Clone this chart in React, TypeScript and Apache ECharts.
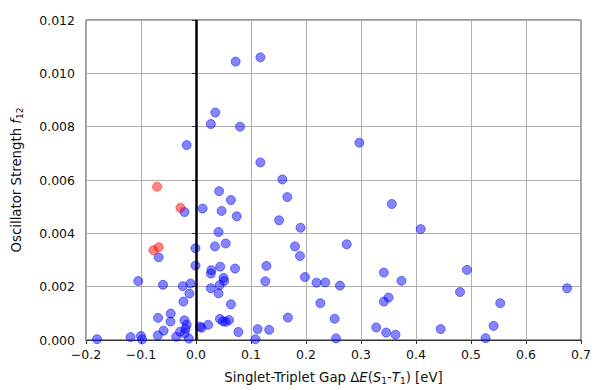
import React, { useEffect, useRef } from "react";
import * as echarts from "echarts";

const blueX = [0.072,0.117,0.035,0.027,0.080,-0.017,0.117,0.157,0.297,-0.021,0.042,0.0635,0.012,0.0465,0.074,0.166,0.151,0.190,0.041,0.180,0.189,0.054,0.0345,-0.001,-0.068,-0.001,0.044,0.071,0.128,0.028,0.027,0.198,0.050,0.051,0.126,-0.105,-0.060,-0.024,-0.010,0.043,0.027,0.219,0.235,0.041,-0.012,-0.023,0.0635,0.226,-0.046,-0.0465,-0.069,-0.021,-0.017,-0.019,-0.029,-0.036,-0.0205,-0.013,-0.059,-0.0695,-0.100,-0.119,-0.180,-0.098,0.0435,0.049,0.054,0.060,0.022,0.010,0.007,0.077,0.167,0.112,0.133,0.108,0.356,0.4085,0.274,0.4926,0.3415,0.3735,0.2617,0.6745,0.48,0.35,0.3415,0.553,0.252,0.3276,0.3457,0.3627,0.4448,0.541,0.2545,0.5264];
const blueY = [0.01044,0.0106,0.00853,0.0081,0.0080,0.00731,0.00666,0.00602,0.0074,0.0048,0.00558,0.00525,0.00493,0.00484,0.00464,0.00536,0.00449,0.00421,0.00405,0.00351,0.00315,0.00362,0.00351,0.00344,0.0031,0.00279,0.00275,0.00268,0.00278,0.00262,0.00249,0.00236,0.00233,0.00221,0.0022,0.00221,0.00207,0.00202,0.00212,0.00206,0.00194,0.00215,0.00216,0.00175,0.00174,0.00144,0.00134,0.00138,0.00099,0.00069,0.00083,0.00074,0.00057,0.00042,0.00031,0.00012,0.00025,0.00005,0.00035,0.00017,0.00015,0.00011,0.00003,0.00002,0.00079,0.0007,0.00068,0.00075,0.00057,0.00046,0.0005,0.0003,0.00084,0.00041,0.00038,0.00003,0.0051,0.00416,0.00359,0.00263,0.00253,0.00222,0.00204,0.00194,0.0018,0.00159,0.00144,0.00138,0.0008,0.00047,0.00028,0.0002,0.00041,0.00053,0.00006,0.00007];
const redX = [-0.0707,-0.0284,-0.0774,-0.0677];
const redY = [0.00575,0.00496,0.00337,0.00348];

const xTicks = [-0.2,-0.1,0,0.1,0.2,0.3,0.4,0.5,0.6,0.7];
const yTicks = [0,0.002,0.004,0.006,0.008,0.010,0.012];

const FONT = "DejaVu Sans";

export default function App() {
  const ref = useRef<HTMLDivElement>(null);
  useEffect(() => {
    if (!ref.current) return;
    const chart = echarts.init(ref.current, null, { renderer: "svg" });
    const blue = blueX.map((x, i) => [x, blueY[i]]);
    const red = redX.map((x, i) => [x, redY[i]]);
    const rich = {
      n: { fontSize: 13.3, color: "#111", fontFamily: FONT },
      i: { fontSize: 13.3, color: "#111", fontStyle: "italic", fontFamily: FONT },
      s: { fontSize: 9, color: "#111", fontFamily: FONT, verticalAlign: "bottom", padding: [6, 0, 0, 0] },
    };
    chart.setOption({
      animation: false,
      textStyle: { fontFamily: FONT },
      grid: { left: 86, right: 11, top: 20, bottom: 46, show: true, borderColor: "#333", borderWidth: 1 },
      xAxis: {
        type: "value",
        min: xTicks[0],
        max: xTicks[xTicks.length - 1],
        interval: 0.1,
        name: "{n|Singlet-Triplet Gap Δ}{i|E}{n|(}{i|S}{s|1}{n|-}{i|T}{s|1}{n|) [eV]}",
        nameLocation: "middle",
        nameGap: 30,
        nameTextStyle: { rich },
        axisLine: { lineStyle: { color: "#333", width: 1 } },
        axisTick: { show: true, inside: false, length: 4, lineStyle: { color: "#333" } },
        axisLabel: {
          fontSize: 12.5,
          color: "#111",
          margin: 8,
          formatter: (v: number) => v.toFixed(1).replace("-", "\u2212"),
        },
        splitLine: { show: true, lineStyle: { color: "#b0b0b0", width: 1 } },
      },
      yAxis: {
        type: "value",
        min: yTicks[0],
        max: yTicks[yTicks.length - 1],
        interval: 0.002,
        name: "{n|Oscillator Strength }{i|f}{s|12}",
        nameLocation: "middle",
        nameGap: 62,
        nameRotate: 90,
        nameTextStyle: { rich },
        axisLine: { show: true, lineStyle: { color: "#333", width: 1 } },
        axisTick: { show: true, inside: false, length: 4, lineStyle: { color: "#333" } },
        axisLabel: {
          fontSize: 12.5,
          color: "#111",
          margin: 11,
          formatter: (v: number) => v.toFixed(3),
        },
        splitLine: { show: true, lineStyle: { color: "#b0b0b0", width: 1 } },
      },
      series: [
        {
          type: "scatter",
          data: blue,
          symbolSize: 9,
          clip: true,
          itemStyle: { color: "rgba(0,0,255,0.6)", borderColor: "rgba(0,0,255,0.6)", borderWidth: 1 },
          z: 2,
        },
        {
          type: "scatter",
          data: red,
          symbolSize: 9,
          clip: true,
          itemStyle: { color: "rgba(255,0,0,0.6)", borderColor: "rgba(255,0,0,0.6)", borderWidth: 1 },
          z: 2,
          markLine: {
            silent: true,
            symbol: "none",
            label: { show: false },
            lineStyle: { color: "#000", width: 2.5, type: "solid" },
            data: [{ xAxis: 0 }],
          },
        },
      ],
    });
    return () => chart.dispose();
  }, []);
  return <div ref={ref} style={{ position: "absolute", left: 0, top: 0, width: 594, height: 390 }} />;
}
